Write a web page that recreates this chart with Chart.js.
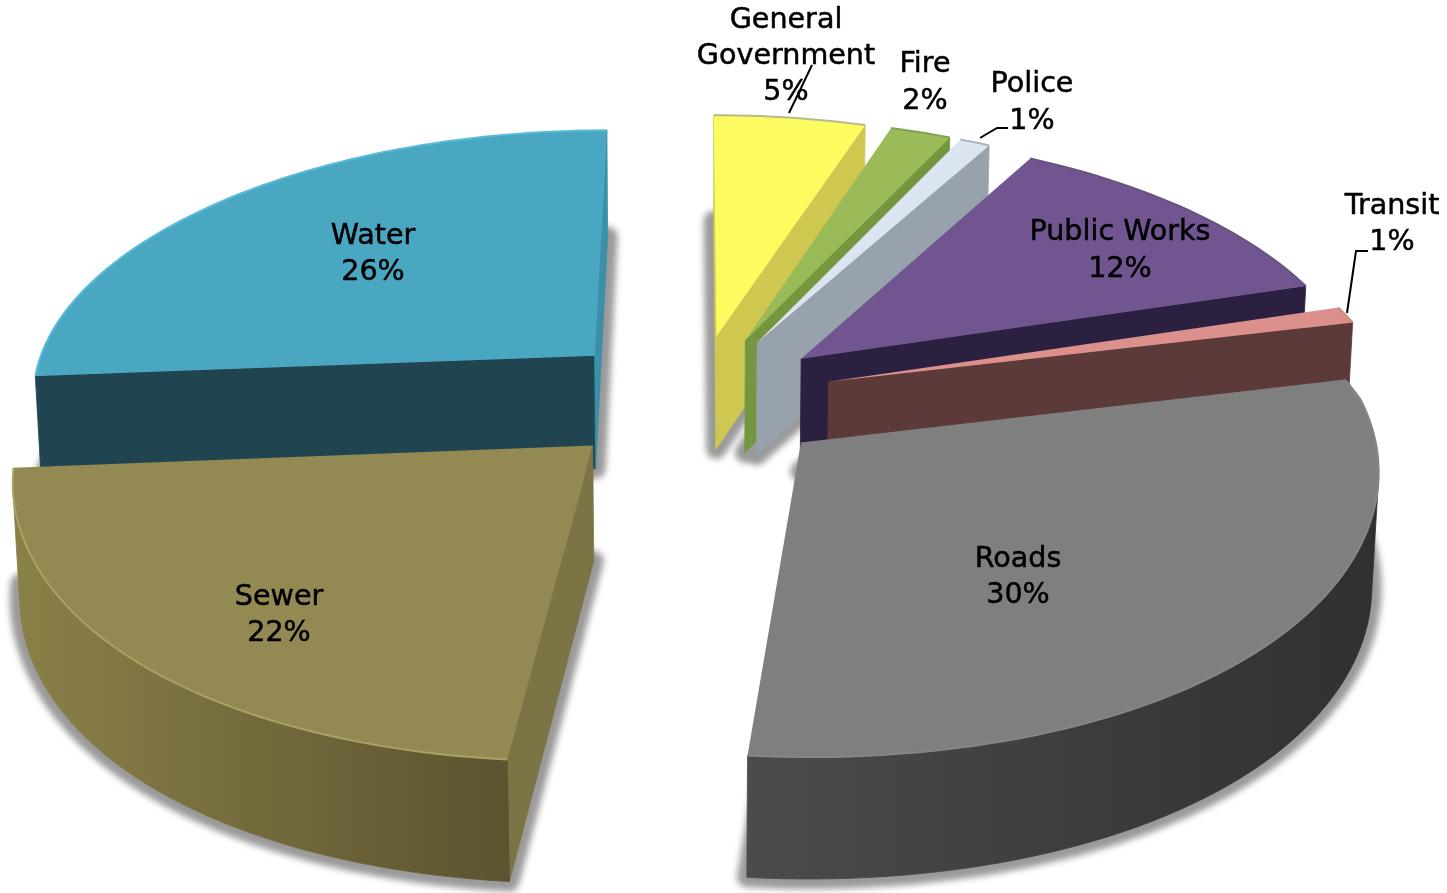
<!DOCTYPE html>
<html>
<head>
<meta charset="utf-8">
<title>Capital budget by department</title>
<script src="https://cdn.jsdelivr.net/npm/chart.js@4/dist/chart.umd.min.js"></script>
<style>
    html, body { margin: 0; padding: 0; background: #fff; }
    #wrap { position: relative; width: 1447px; height: 893px; overflow: hidden; }
    canvas { display: block; }
</style>
</head>
<body>
<div id="wrap"><canvas id="budgetPie" width="1447" height="893"></canvas></div>
<script>
const categories = ['General Government', 'Fire', 'Police', 'Public Works', 'Transit', 'Roads', 'Sewer', 'Water'];
const shares = [5, 2, 1, 12, 1, 30, 22, 26];

// colours per slice: top face, radial walls, outer wall (left and right end), rim highlight
const topColors = ['#fcfc60', '#9bbb59', '#dbe5f1', '#705590', '#dc908c', '#7f7f7f', '#938953', '#49a7c2'];
const sideColors = ['#cfc850', '#74963e', '#98a2ad', '#2c2040', '#5c3a3a', '#4b4b4b', '#7c7444', '#204551'];
const endWallColors = ['#cfc850', '#74963e', '#98a2ad', '#2c2040', '#5c3a3a', '#4b4b4b', '#7c7444', '#3a90a8'];
const rimLeftColors = ['#cfc850', '#74963e', '#98a2ad', '#2c2040', '#5c3a3a', '#4b4b4b', '#8a8148', '#204551'];
const rimRightColors = ['#cfc850', '#74963e', '#98a2ad', '#2c2040', '#5c3a3a', '#303030', '#5c5330', '#204551'];
const edgeColors = ['#b9b98c', '#84a052', '#aab2bc', '#655480', '#c98a86', '#868686', '#aaa262', '#58bcd8'];

// label text centres, one y per line
const labelLines = [
    { x: 786, ys: [21, 57, 93], lines: ['General', 'Government'] },
    { x: 925, ys: [65, 102], lines: ['Fire'] },
    { x: 1032, ys: [85, 122], lines: ['Police'] },
    { x: 1120, ys: [233, 270], lines: ['Public Works'] },
    { x: 1392, ys: [207, 243], lines: ['Transit'] },
    { x: 1018, ys: [560, 596], lines: ['Roads'] },
    { x: 279, ys: [598, 634], lines: ['Sewer'] },
    { x: 373, ys: [237, 273], lines: ['Water'] }
];
const leaders = [
    [[812, 65], [789, 113]],
    [[980, 138], [997, 128], [1008, 128]],
    [[1347, 313], [1356, 251], [1368, 251]]
];

// tilted camera: ground plane is projected with a mild perspective
const camera = {
    cx: 695, cy: 399, tilt: 0.465,
    farPersp: 0.00025, nearPersp: 0.000135, nearCurve: 1.28e-7, nearShear: 0.012, heightPersp: 0.00022,
    depthBase: 114, depthSlope: 0.012, depthPersp: 0.01
};
const PLANE_RADIUS = 567;
const ARC_STEP = Math.PI / 120;

function project(X, Y, z) {
    const spread = Y > 0 ? camera.farPersp * Y : camera.nearPersp * Y - camera.nearCurve * Y * Y;
    const shear = Y > 0 ? 0 : camera.nearShear * Y;
    const w = 1 + spread + camera.depthPersp * z;
    return {
        x: camera.cx + shear + X / w,
        y: camera.cy - camera.tilt * Y / (1 + camera.heightPersp * Y) + z * (camera.depthBase - camera.depthSlope * Y)
    };
}

// plane outline of a slice: apex first, then the outer arc clockwise
function sliceOutline(arc) {
    const scale = PLANE_RADIUS / arc.outerRadius;
    const start = arc.startAngle + Math.PI / 2;
    const end = arc.endAngle + Math.PI / 2;
    const mid = (start + end) / 2;
    const explode = arc.options.offset * scale;
    const ax = Math.sin(mid) * explode;
    const ay = Math.cos(mid) * explode;
    const pts = [[ax, ay]];
    const steps = Math.max(2, Math.ceil((end - start) / ARC_STEP));
    for (let i = 0; i <= steps; i++) {
        const t = start + (end - start) * i / steps;
        pts.push([ax + Math.sin(t) * PLANE_RADIUS, ay + Math.cos(t) * PLANE_RADIUS]);
    }
    return pts;
}

function tracePath(ctx, pts) {
    ctx.beginPath();
    pts.forEach((p, i) => i ? ctx.lineTo(p.x, p.y) : ctx.moveTo(p.x, p.y));
    ctx.closePath();
}

function signedArea(pts) {
    let sum = 0;
    pts.forEach((p, i) => {
        const q = pts[(i + 1) % pts.length];
        sum += p.x * q.y - q.x * p.y;
    });
    return sum;
}

function fillWall(ctx, pts, fill) {
    ctx.fillStyle = fill;
    ctx.strokeStyle = fill;
    ctx.lineWidth = 0.8;
    tracePath(ctx, pts);
    ctx.fill();
    ctx.stroke();
}

function drawSlice(ctx, outline, i) {
    const top = outline.map(p => project(p[0], p[1], 0));
    const bottom = outline.map(p => project(p[0], p[1], 1));
    const n = outline.length;

    const isVisible = (j, k) => signedArea([top[j], top[k], bottom[k], bottom[j]]) < 0;

    // the two radial walls
    if (isVisible(0, 1)) fillWall(ctx, [top[0], top[1], bottom[1], bottom[0]], sideColors[i]);
    if (isVisible(n - 1, 0)) fillWall(ctx, [top[n - 1], top[0], bottom[0], bottom[n - 1]], endWallColors[i]);

    // outer wall as one polygon so the gradient has no seams
    const xs = top.slice(1).map(p => p.x);
    const rimFill = ctx.createLinearGradient(Math.min(...xs), 0, Math.max(...xs), 0);
    rimFill.addColorStop(0, rimLeftColors[i]);
    rimFill.addColorStop(1, rimRightColors[i]);
    const upper = [];
    const lower = [];
    for (let j = 1; j < n - 1; j++) {
        if (isVisible(j, j + 1)) {
            if (!upper.length) {
                upper.push(top[j]);
                lower.push(bottom[j]);
            }
            upper.push(top[j + 1]);
            lower.push(bottom[j + 1]);
        }
    }
    if (upper.length) fillWall(ctx, upper.concat(lower.reverse()), rimFill);

    ctx.fillStyle = topColors[i];
    tracePath(ctx, top);
    ctx.fill();

    ctx.strokeStyle = edgeColors[i];
    ctx.lineWidth = 2;
    ctx.beginPath();
    top.slice(1).forEach((p, j) => j ? ctx.lineTo(p.x, p.y) : ctx.moveTo(p.x, p.y));
    ctx.stroke();
}

function drawLabels(ctx) {
    ctx.strokeStyle = '#000';
    ctx.lineWidth = 2;
    leaders.forEach(line => {
        ctx.beginPath();
        line.forEach((p, i) => i ? ctx.lineTo(p[0], p[1]) : ctx.moveTo(p[0], p[1]));
        ctx.stroke();
    });

    ctx.fillStyle = '#000';
    ctx.lineWidth = 0.5;
    ctx.font = '28.6px "DejaVu Sans"';
    ctx.textAlign = 'center';
    ctx.textBaseline = 'middle';
    labelLines.forEach((label, i) => {
        const rows = label.lines.concat(shares[i] + '%');
        rows.forEach((row, r) => {
            ctx.fillText(row, label.x, label.ys[r]);
            ctx.strokeText(row, label.x, label.ys[r]);
        });
    });
}

const slicePlugin = {
    id: 'slicePlugin',
    beforeDatasetsDraw(chart) {
        const ctx = chart.ctx;
        const arcs = chart.getDatasetMeta(0).data;
        const outlines = arcs.map(sliceOutline);

        // soft shadow around the footprint of every slice
        ctx.save();
        ctx.filter = 'blur(3px)';
        ctx.fillStyle = '#9a9a9a';
        ctx.strokeStyle = '#9a9a9a';
        ctx.lineWidth = 20;
        ctx.lineJoin = 'round';
        outlines.forEach(outline => {
            tracePath(ctx, outline.map(p => project(p[0], p[1], 1)));
            ctx.fill();
            ctx.stroke();
        });
        ctx.restore();

        // far slices first so nearer ones cover them
        const order = outlines.map((o, i) => i).sort((a, b) => outlines[b][0][1] - outlines[a][0][1]);
        order.forEach(i => drawSlice(ctx, outlines[i], i));

        drawLabels(ctx);
        return false;
    }
};

new Chart(document.getElementById('budgetPie'), {
    type: 'pie',
    data: {
        labels: categories,
        datasets: [{
            data: shares,
            backgroundColor: topColors,
            offset: 98,
            borderWidth: 0
        }]
    },
    options: {
        responsive: false,
        animation: false,
        rotation: 0,
        plugins: {
            legend: { display: false },
            tooltip: { enabled: false }
        }
    },
    plugins: [slicePlugin]
});
</script>
</body>
</html>
